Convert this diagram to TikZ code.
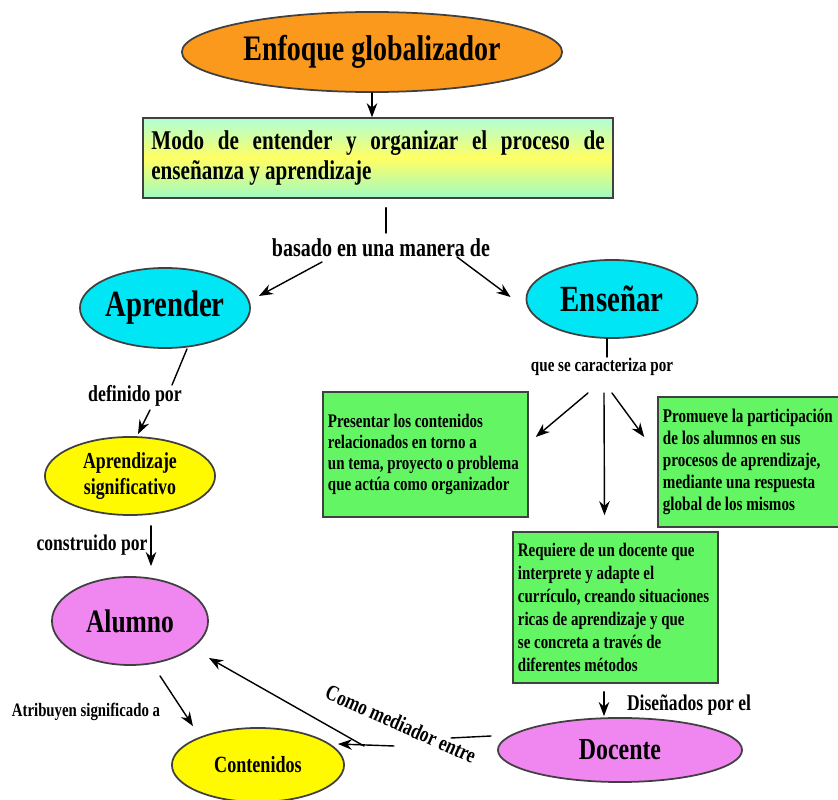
\documentclass[tikz,border=0pt]{standalone}
\usepackage{fontspec}
\setmainfont{Liberation Serif}[FakeStretch=0.78]
\usetikzlibrary{shapes.geometric,calc,arrows.meta}

\begin{document}
\begin{tikzpicture}
[x=0.01cm,y=-0.01cm,line cap=round,>={Stealth[length=4pt,width=3pt]},
% Styles
oval/.style={ellipse,draw=black!75,line width=0.5pt,inner sep=0pt},
big text/.style={font=\fontsize{#1}{#1}\selectfont\bfseries},
link text/.style={inner sep=0pt,font=\fontsize{#1}{#1}\selectfont\bfseries},
concept box/.style={rectangle,draw=black!75,fill=boxgreen,inner xsep=0.05cm,
  text width=1.95cm,align=flush left,font=\fontsize{5.45}{5.9}\selectfont\bfseries}]
% Colors
\definecolor{enfoquecolor}{RGB}{251,153,28}
\definecolor{cyancolor}{RGB}{0,230,245}
\definecolor{yellowcolor}{RGB}{255,250,0}
\definecolor{pinkcolor}{RGB}{240,135,240}
\definecolor{boxgreen}{RGB}{100,245,100}
\definecolor{modotop}{RGB}{175,255,215}
\definecolor{modomid}{RGB}{255,255,100}
\definecolor{modobottom}{RGB}{160,250,195}

\useasboundingbox (0,0) rectangle (838,800);
\clip (0,0) rectangle (838,800);

% The concepts
\node[oval,fill=enfoquecolor,minimum width=3.8cm,minimum height=0.8cm,big text=10.2]
  (enfoque) at (372,52) {Enfoque globalizador};
\node[rectangle,draw=black!75,top color=modotop,bottom color=modobottom,middle color=modomid,
  minimum height=0.8cm,text width=4.53cm,inner xsep=0.085cm,align=justify,
  font=\fontsize{7.7}{8.5}\selectfont\bfseries]
  (modo) at (378,158) {Modo de entender y organizar el proceso de\linebreak enseñanza y aprendizaje};
\node[oval,fill=cyancolor,minimum width=1.7cm,minimum height=0.8cm,big text=10.5]
  (aprender) at (165,308) {Aprender};
\node[oval,fill=cyancolor,minimum width=1.71cm,minimum height=0.78cm,big text=10.5]
  (ensenar) at (612,299) {Enseñar};
\node[oval,fill=yellowcolor,minimum width=1.7cm,minimum height=0.78cm,align=center,
  font=\fontsize{6.5}{7.3}\selectfont\bfseries]
  (aprsig) at (130,476) {Aprendizaje\\significativo};
\node[oval,fill=pinkcolor,minimum width=1.56cm,minimum height=0.88cm,big text=9.3]
  (alumno) at (130,621) {Alumno};
\node[oval,fill=yellowcolor,minimum width=1.72cm,minimum height=0.74cm,big text=6.6]
  (contenidos) at (258,765) {Contenidos};
\node[oval,fill=pinkcolor,minimum width=2.44cm,minimum height=0.64cm,big text=8.7]
  (docente) at (620,750) {Docente};
\node[concept box,minimum height=1.25cm] (presentar) at (425.5,454.5)
  {Presentar los contenidos\\relacionados en torno a\\un tema, proyecto o problema\\que actúa como organizador};
\node[concept box,minimum height=1.35cm,font=\fontsize{5.45}{6.5}\selectfont\bfseries] (requiere) at (615.5,607.5)
  {Requiere de un docente que\\interprete y adapte el\\currículo, creando situaciones\\ricas de aprendizaje y que\\se concreta a través de\\diferentes métodos};
\node[concept box,minimum height=1.2cm,font=\fontsize{5.5}{6.3}\selectfont\bfseries] (promueve) at (760.5,462)
  {Promueve la participación\\de los alumnos en sus\\procesos de aprendizaje,\\mediante una respuesta\\global de los mismos};

% The linking words
\node[link text=7.3] (basado) at (381,248) {basado en una manera de};
\node[link text=6.5] (definido) at (135,396) {definido por};
\node[link text=6.4] (construido) at (92,545) {construido por};
\node[link text=5.4] (atribuyen) at (86,712) {Atribuyen significado a};
\node[link text=6.3,rotate=-24] (mediador) at (401,724) {Como mediador entre};
\node[link text=5.5] (caracteriza) at (602,367) {que se caracteriza por};
\node[link text=6.4] (disenados) at (689,705) {Diseñados por el};

% The connectors
\draw[->] (enfoque.south) -- (enfoque.south |- modo.north);
\draw ($(modo.south)+(8,9)$) -- ($(basado)+(5,-15)$);
\draw[->] ($(basado)+(-59,14)$) -- ($(aprender.east)+(8,-12)$);
\draw[->] ($(basado)+(76,9)$) -- ($(ensenar.west)+(-15,-2)$);
\draw ($(aprender.south)+(22,0)$) -- ($(definido)+(37,-11)$);
\draw[->] ($(definido)+(15,14)$) -- ($(aprsig.north)+(8,-2)$);
\draw[->] ($(aprsig.south)+(21,10)$) -- ($(alumno.north)+(21,-10)$);
\draw[->] ($(alumno.south)+(30,10)$) -- ($(contenidos.north)+(-65,-1)$);
\draw ($(docente.west)+(-6,-14)$) -- ($(mediador)+(50,14)$);
\draw[->] ($(mediador)+(-7,22)$) -- ($(contenidos.east)+(-7,-21)$);
\draw[->] ($(mediador)+(-37,22)$) -- ($(alumno.east)+(0,37)$);
\draw ($(ensenar.south)+(-5,0)$) -- ($(caracteriza)+(5,-10)$);
\draw[->] ($(caracteriza)+(-14,26)$) -- ($(presentar.east)+(7,-17.5)$);
\draw[->] ($(caracteriza)+(2,26)$) -- ($(requiere.north)+(-11,-16)$);
\draw[->] ($(caracteriza)+(10,26)$) -- ($(promueve.west)+(-13,-25)$);
\draw[->] ($(requiere.south)+(-11.5,8)$) -- ($(docente.north)+(-16,-1)$);
\end{tikzpicture}
\end{document}
